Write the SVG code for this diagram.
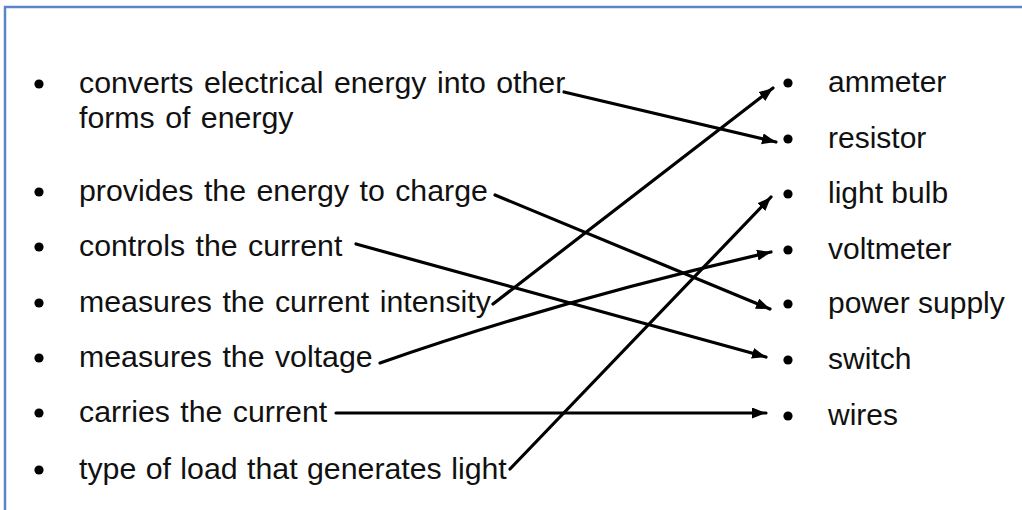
<svg xmlns="http://www.w3.org/2000/svg" width="1022" height="510" viewBox="0 0 1022 510">
<style>
text{font-family:"Liberation Sans",Arial,sans-serif;font-size:30.3px;word-spacing:2px;fill:#111}
.r text{font-size:30px;word-spacing:0}
.b{fill:#000}
.c{fill:none;stroke:#000;stroke-width:3.2;stroke-linecap:round}
</style>
<defs>
<marker id="ah" markerUnits="userSpaceOnUse" markerWidth="15" markerHeight="12" refX="14" refY="5.5" orient="auto">
<path d="M0,0 L14,5.5 L0,11 Z" fill="#000"/>
</marker>
</defs>
<rect x="0" y="0" width="1022" height="510" fill="#fff"/>
<path d="M5,510 V7 H1022" fill="none" stroke="#5b86c6" stroke-width="2.5"/>
<g id="l1"><circle class="b" cx="39" cy="84" r="4.6"/><text x="79" y="93">converts electrical energy into other</text><text x="79" y="128">forms of energy</text></g>
<g id="l2"><circle class="b" cx="39" cy="192" r="4.6"/><text x="79" y="201">provides the energy to charge</text></g>
<g id="l3"><circle class="b" cx="39" cy="247" r="4.6"/><text x="79" y="256">controls the current</text></g>
<g id="l4"><circle class="b" cx="39" cy="303" r="4.6"/><text x="79" y="312">measures the current intensity</text></g>
<g id="l5"><circle class="b" cx="39" cy="358" r="4.6"/><text x="79" y="367">measures the voltage</text></g>
<g id="l6"><circle class="b" cx="39" cy="413" r="4.6"/><text x="79" y="422">carries the current</text></g>
<g id="l7"><circle class="b" cx="39" cy="470" r="4.6"/><text x="79" y="479" style="word-spacing:1px">type of load that generates light</text></g>
<g id="r1" class="r"><circle class="b" cx="788" cy="83" r="4.6"/><text x="828" y="92">ammeter</text></g>
<g id="r2" class="r"><circle class="b" cx="788" cy="139" r="4.6"/><text x="828" y="148">resistor</text></g>
<g id="r3" class="r"><circle class="b" cx="788" cy="194" r="4.6"/><text x="828" y="203">light bulb</text></g>
<g id="r4" class="r"><circle class="b" cx="788" cy="250" r="4.6"/><text x="828" y="259">voltmeter</text></g>
<g id="r5" class="r"><circle class="b" cx="788" cy="304" r="4.6"/><text x="828" y="313">power supply</text></g>
<g id="r6" class="r"><circle class="b" cx="788" cy="360" r="4.6"/><text x="828" y="369">switch</text></g>
<g id="r7" class="r"><circle class="b" cx="788" cy="416" r="4.6"/><text x="828" y="425">wires</text></g>
<g id="connectors">
<path class="c" d="M564,92 L776,142" marker-end="url(#ah)"/>
<path class="c" d="M495,195 L770,309" marker-end="url(#ah)"/>
<path class="c" d="M356,244 L766,357" marker-end="url(#ah)"/>
<path class="c" d="M493,304 L773,88" marker-end="url(#ah)"/>
<path class="c" d="M380,363 Q560,300 771,252" marker-end="url(#ah)"/>
<path class="c" d="M336,413 L766,413" marker-end="url(#ah)"/>
<path class="c" d="M510,469 L771,197" marker-end="url(#ah)"/>
</g>
</svg>
